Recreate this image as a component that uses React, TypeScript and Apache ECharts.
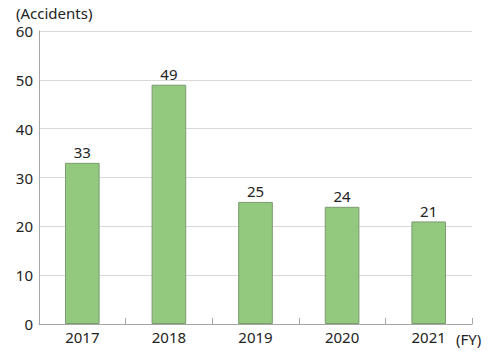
import React, { useEffect, useRef } from "react";
import * as echarts from "echarts";

const categories = ["2017", "2018", "2019", "2020", "2021"];
const accidents = [33, 49, 25, 24, 21];
const yTicks = { min: 0, max: 60, interval: 10 };

const FONT = "'Noto Sans', sans-serif";
const FS = 15;

export default function App() {
  const ref = useRef<HTMLDivElement>(null);
  useEffect(() => {
    const chart = echarts.init(ref.current!, null, { renderer: "svg" });
    chart.setOption({
      animation: false,
      grid: { left: 39, right: 27, top: 31, bottom: 27, containLabel: false },
      xAxis: {
        type: "category",
        data: categories,
        name: "(FY)",
        nameLocation: "end",
        nameGap: -16,
        nameTextStyle: { color: "#222", fontSize: FS, fontFamily: FONT, verticalAlign: "top", padding: [7, 0, 0, 0] },
        axisLine: { lineStyle: { color: "#a6a6a6", width: 1 } },
        axisTick: { show: true, inside: true, length: 6, lineStyle: { color: "#a6a6a6" } },
        axisLabel: { color: "#222", fontSize: FS, fontFamily: FONT, margin: 5 },
      },
      yAxis: {
        type: "value",
        min: yTicks.min,
        max: yTicks.max,
        interval: yTicks.interval,
        name: "(Accidents)",
        nameLocation: "end",
        nameGap: 11,
        nameTextStyle: { color: "#222", fontSize: FS, fontFamily: FONT, align: "left", padding: [0, 0, 0, -23] },
        axisLine: { show: true, lineStyle: { color: "#a6a6a6", width: 1 } },
        axisTick: { show: false },
        axisLabel: { color: "#222", fontSize: FS, fontFamily: FONT, margin: 6 },
        splitLine: { lineStyle: { color: "#d9d9d9", width: 1 } },
      },
      series: [
        {
          type: "bar",
          data: accidents,
          barWidth: "40%",
          itemStyle: { color: "#93c97f", borderColor: "#7a9a70", borderWidth: 1 },
          label: { show: true, position: "top", color: "#222", fontSize: FS, fontFamily: FONT, distance: 3 },
        },
      ],
    });
    return () => chart.dispose();
  }, []);
  return <div ref={ref} style={{ width: 499, height: 351, position: "absolute", left: 0, top: 0 }} />;
}
